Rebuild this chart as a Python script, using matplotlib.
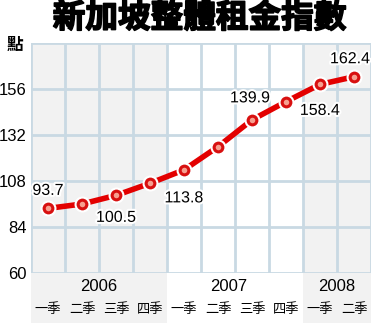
import matplotlib
matplotlib.use('Agg')
import matplotlib.pyplot as plt
import matplotlib.patheffects as pe
from matplotlib.patches import Rectangle

# 新加坡整體租金指數 (季度)
quarters = ['一季', '二季', '三季', '四季', '一季', '二季', '三季', '四季', '一季', '二季']
years = ['2006', '2007', '2008']
year_pos = [1.5, 5.3, 8.5]
index_values = [93.7, 96.0, 100.5, 106.8, 113.8, 125.9, 139.9, 149.4, 158.4, 162.4]
yticks = [60, 84, 108, 132, 156]

# 哪些點要標數值, 以及標在上方還是下方 (像素偏移)
label_idx = [0, 2, 4, 6, 8, 9]
label_dx = [0, 0, 0, -2, 0, -4]
label_dy = [18, -22, -28, 22, -26, 18]

num_font = ['Liberation Sans', 'DejaVu Sans']
cjk_font = ['Noto Sans CJK TC', 'DejaVu Sans']

fig = plt.figure(figsize=(3.71, 3.24), dpi=100)
ax = fig.add_axes([31 / 371, 1 - 273 / 324, 340 / 371, 230 / 324])

n = len(index_values)
ax.set_xlim(-0.5, n - 0.5)
ax.set_ylim(60, 180)

# 背景分區: 2006 / 2008 淡灰, 2007 白
bands = [(-0.5, 3.5, '#f2f2f2'), (3.5, 7.5, 'white'), (7.5, 9.5, '#f2f2f2')]
for x0, x1, c in bands:
    ax.add_patch(Rectangle((x0, 60), x1 - x0, 120, facecolor=c, edgecolor='none', zorder=0))
    # 下方標籤區
    ax.add_patch(Rectangle((x0, 60), x1 - x0, -26, facecolor=c, edgecolor='none',
                           clip_on=False, zorder=0))

grid_c = '#c9d9e3'
for k in range(n + 1):
    ax.axvline(k - 0.5, color=grid_c, lw=2, zorder=1)
for v in yticks[1:] + [180]:
    ax.axhline(v, color=grid_c, lw=2, zorder=1)
ax.axhline(60, color=grid_c, lw=2, zorder=1)

for s in ax.spines.values():
    s.set_visible(False)
ax.set_xticks([])
ax.set_yticks(yticks)
ax.set_yticklabels([str(t) for t in yticks], family=num_font, fontsize=12)
ax.tick_params(axis='y', length=0, pad=3)

xs = list(range(n))
ax.plot(xs, index_values, color='#e30000', lw=4, zorder=3, solid_capstyle='round')
ax.plot(xs, index_values, 'o', ms=10, mfc='#d81010', mec='white', mew=1.5, zorder=4)
ax.plot(xs, index_values, 'o', ms=4, mfc='#f6a090', mec='none', zorder=5)

for i, dx, dy in zip(label_idx, label_dx, label_dy):
    ax.annotate(f'{index_values[i]:.1f}', (xs[i], index_values[i]), xytext=(dx, dy),
                textcoords='offset pixels', ha='center', va='center',
                family=num_font, fontsize=11.5, zorder=6,
                path_effects=[pe.withStroke(linewidth=3, foreground='white')])

for yr, p in zip(years, year_pos):
    ax.text(p, 60 - 3.2, yr, ha='center', va='top', family=num_font, fontsize=12)
for i, q in enumerate(quarters):
    ax.text(i, 60 - 15.5, q, ha='center', va='top', family=cjk_font, fontsize=9.5)

fig.text(15 / 371, 1 - 45 / 324, '點', ha='center', va='center', family=cjk_font,
         fontsize=12, fontweight='bold')
fig.text(0.5 + 14 / 371, 1 - 18 / 324, '新加坡整體租金指數', ha='center', va='center',
         family=cjk_font, fontsize=23.5, fontweight='heavy',
         path_effects=[pe.withStroke(linewidth=1.2, foreground='black')])

fig.savefig('out.png', dpi=100)
